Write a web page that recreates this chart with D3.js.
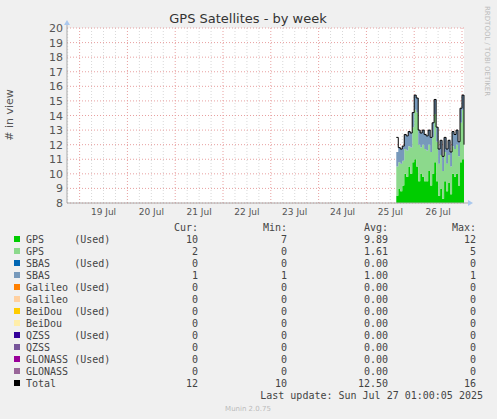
<!DOCTYPE html>
<html><head><meta charset="utf-8">
<script src="https://cdn.jsdelivr.net/npm/d3@7"></script>
<style>body{margin:0;background:#f0f0f0}</style>
</head><body><div id="chart"></div>
<script>
// hourly samples, Jul 25 15:00 -> Jul 27 01:00
var startTime = new Date(2025, 6, 25, 15);
var gpsUsed = [8.5,9,8.8,9.2,10,9.8,10.5,10,10.8,11,10.5,9.5,10,9.8,9.5,9.5,10.2,9.2,10,10.8,9.5,8.5,9,8.3,9.5,8.8,9.4,8.6,10,9.8,10,9.2,10.8,11,10];
var gpsSeen = [2,1.8,1.9,1.7,1.7,1.8,1.4,1.8,2.4,3.4,3.7,2.5,1.8,2.2,2.2,2.1,1.8,2.3,2.5,3.3,2.7,2.2,2.3,1.9,2,1.9,1.9,1.9,1.9,1.9,2,2,2.7,3.4,1];
var sbasSeen = [1,1,1,1,1,1,1,1,1,1,1,1,1,1,1,1,1,1,1,1,1,1,1,1,1,1,1,1,1,1,1,1,1,1,1];
var total = [12.5,11.8,11.7,11.9,12.7,12.6,12.9,12.8,14.2,15.4,15.2,13,12.8,13,12.7,12.6,13,12.5,13.5,15.1,13.2,11.7,12.3,11.2,12.5,11.7,12.3,11.5,12.9,12.7,13,12.2,14.5,15.4,12];
var yTicks = [8,9,10,11,12,13,14,15,16,17,18,19,20];
var dayLabels = ["19 Jul","20 Jul","21 Jul","22 Jul","23 Jul","24 Jul","25 Jul","26 Jul"];
var legendNames = ["GPS     (Used)","GPS","SBAS    (Used)","SBAS","Galileo (Used)","Galileo","BeiDou  (Used)","BeiDou","QZSS    (Used)","QZSS","GLONASS (Used)","GLONASS","Total"];
var legendColors = ["#00cc00","#8cd98c","#0066b3","#7799bb","#ff8000","#ffd0a0","#ffcc00","#ffeeaa","#330099","#775599","#990099","#996699","#000000"];
var legendCur = ["10","2","0","1","0","0","0","0","0","0","0","0","12"];
var legendMin = ["7","0","0","1","0","0","0","0","0","0","0","0","10"];
var legendAvg = ["9.89","1.61","0.00","1.00","0.00","0.00","0.00","0.00","0.00","0.00","0.00","0.00","12.50"];
var legendMax = ["12","5","0","1","0","0","0","0","0","0","0","0","16"];

const W = 497, H = 419;
const pLeft = 67, pRight = 464, pTop = 28, pBottom = 203;

const svg = d3.select("#chart").append("svg").attr("width", W).attr("height", H)
  .style("font-family", "DejaVu Sans");
svg.append("rect").attr("width", W).attr("height", H).attr("fill", "#f0f0f0");
svg.append("rect").attr("x", pLeft).attr("y", pTop).attr("width", pRight - pLeft).attr("height", pBottom - pTop).attr("fill", "#fff");

const x = d3.scaleTime()
  .domain([new Date(2025, 6, 18, 17, 40), new Date(2025, 6, 27, 1)])
  .range([pLeft, pRight]);
const y = d3.scaleLinear().domain([8, 20]).range([pBottom, pTop]);

// grid
d3.timeHour.every(6).range(x.domain()[0], x.domain()[1]).forEach(function (t) {
  var mid = t.getHours() === 0;
  svg.append("line").attr("x1", x(t)).attr("x2", x(t)).attr("y1", pTop).attr("y2", pBottom)
    .attr("stroke", mid ? "#e8a0a0" : "#d8d8d8").attr("stroke-dasharray", "1,2");
});
yTicks.forEach(function (v) {
  svg.append("line").attr("x1", pLeft).attr("x2", pRight).attr("y1", y(v)).attr("y2", y(v))
    .attr("stroke", "#e8a0a0").attr("stroke-dasharray", "1,2");
  svg.append("text").attr("x", pLeft - 4).attr("y", y(v) + 4).attr("text-anchor", "end")
    .attr("font-size", 11).attr("fill", "#555").text(v);
});
dayLabels.forEach(function (l, i) {
  var t = new Date(2025, 6, 19 + i, 12);
  svg.append("text").attr("x", x(t)).attr("y", pBottom + 12).attr("text-anchor", "middle")
    .attr("font-size", 9).attr("fill", "#555").text(l);
});

// stacked areas
const times = total.map(function (d, i) { return d3.timeHour.offset(startTime, i); });
const stacks = [gpsUsed, gpsSeen, sbasSeen];
const stackColors = ["#00cc00", "#8cd98c", "#7799bb"];
var base = times.map(function () { return 0; });
stacks.forEach(function (s, k) {
  var lo = base.slice();
  var hi = base.map(function (b, i) { return b + s[i]; });
  svg.append("path").datum(times.map(function (t, i) { return [t, lo[i], hi[i]]; }))
    .attr("fill", stackColors[k])
    .attr("d", d3.area().curve(d3.curveStepAfter)
      .x(function (d) { return x(d[0]); })
      .y0(function (d) { return y(Math.max(8, d[1])); })
      .y1(function (d) { return y(Math.max(8, d[2])); }));
  base = hi;
});
svg.append("path").datum(times.map(function (t, i) { return [t, total[i]]; }))
  .attr("fill", "none").attr("stroke", "#000").attr("stroke-width", 1)
  .attr("d", d3.line().curve(d3.curveStepAfter).x(function (d) { return x(d[0]); }).y(function (d) { return y(d[1]); }));

// axes
svg.append("line").attr("x1", pLeft).attr("x2", pRight + 4).attr("y1", pBottom).attr("y2", pBottom).attr("stroke", "#aaa");
svg.append("line").attr("x1", pLeft).attr("x2", pLeft).attr("y1", pBottom).attr("y2", pTop - 4).attr("stroke", "#aaa");
svg.append("path").attr("d", `M${pRight + 4},${pBottom - 3}L${pRight + 9},${pBottom}L${pRight + 4},${pBottom + 3}Z`).attr("fill", "#aac8ee");
svg.append("path").attr("d", `M${pLeft - 3},${pTop - 3}L${pLeft},${pTop - 8}L${pLeft + 3},${pTop - 3}Z`).attr("fill", "#aac8ee");

svg.append("text").attr("x", 248).attr("y", 23).attr("text-anchor", "middle")
  .attr("font-size", 13).attr("fill", "#333").text("GPS Satellites - by week");
svg.append("text").attr("transform", "translate(13,115) rotate(-90)").attr("text-anchor", "middle")
  .attr("font-size", 11).attr("fill", "#555").text("# in view");
svg.append("text").attr("transform", "translate(485,6) rotate(90)")
  .attr("font-size", 7).attr("fill", "#bbb").text("RRDTOOL / TOBI OETIKER");

// legend
const mono = "DejaVu Sans Mono";
const lg = svg.append("g").attr("font-family", mono).attr("font-size", 10).attr("fill", "#444");
[["Cur:", 198], ["Min:", 287], ["Avg:", 388], ["Max:", 476]].forEach(function (h) {
  lg.append("text").attr("x", h[1]).attr("y", 231).attr("text-anchor", "end").text(h[0]);
});
legendNames.forEach(function (n, i) {
  var yy = 243 + i * 12;
  lg.append("rect").attr("x", 14).attr("y", yy - 7).attr("width", 6).attr("height", 6).attr("fill", legendColors[i]);
  lg.append("text").attr("x", 26).attr("y", yy).attr("xml:space", "preserve").style("white-space", "pre").text(n);
  lg.append("text").attr("x", 198).attr("y", yy).attr("text-anchor", "end").text(legendCur[i]);
  lg.append("text").attr("x", 287).attr("y", yy).attr("text-anchor", "end").text(legendMin[i]);
  lg.append("text").attr("x", 388).attr("y", yy).attr("text-anchor", "end").text(legendAvg[i]);
  lg.append("text").attr("x", 476).attr("y", yy).attr("text-anchor", "end").text(legendMax[i]);
});
lg.append("text").attr("x", 483).attr("y", 399).attr("text-anchor", "end").text("Last update: Sun Jul 27 01:00:05 2025");
svg.append("text").attr("x", 248).attr("y", 411).attr("text-anchor", "middle")
  .attr("font-size", 7).attr("fill", "#bbb").text("Munin 2.0.75");
</script></body></html>
